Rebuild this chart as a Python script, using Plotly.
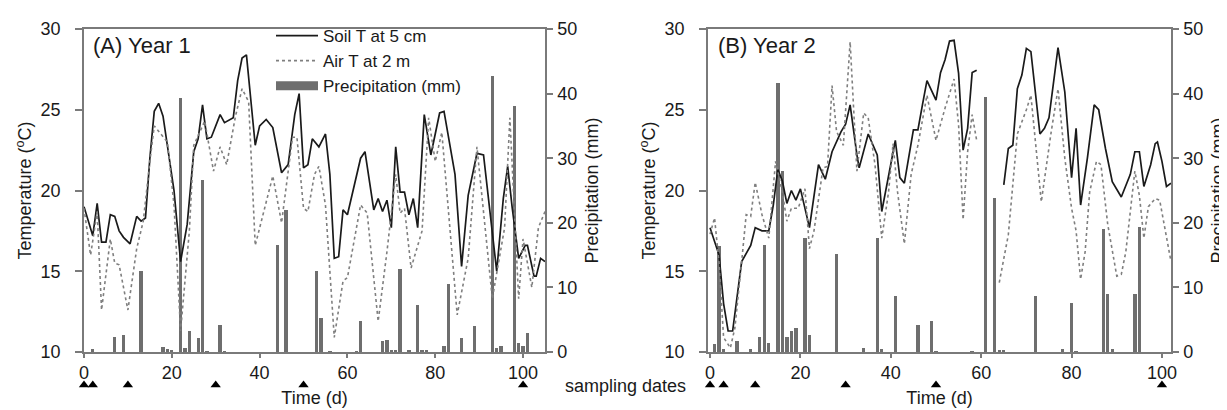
import plotly.graph_objects as go

# ---------------- Panel A (Year 1) ----------------
a_soil_day = [0, 2, 3, 4, 5, 6, 7, 8, 9, 10.5, 12, 13, 14, 15, 16, 17, 18, 19, 20.5, 22, 23.5, 25, 26, 27, 28, 29,
              31, 32, 34, 35, 36, 37, 39, 40, 41.5, 43, 45, 46.5, 48, 49, 50, 51, 52, 53.5, 55, 56, 57, 58, 59, 60,
              63, 64, 66, 67, 68, 69, 70, 71, 72, 73, 74, 75, 76, 77.5, 79, 81, 82, 84.5, 86, 87.5, 89.5, 91, 94,
              95.5, 96.5, 97.5, 99, 100.5, 101, 102.5, 103, 104, 105]
a_soil_t = [19.0, 17.2, 19.2, 16.8, 16.8, 18.5, 18.4, 17.5, 17.1, 16.7, 18.4, 18.1, 18.3, 22.0, 24.9, 25.4, 24.6, 22.8,
            20.0, 15.6, 17.9, 22.4, 23.2, 25.3, 23.2, 23.3, 24.7, 24.2, 24.5, 26.8, 28.2, 28.4, 22.8, 24.0, 24.4, 23.9,
            21.1, 21.6, 24.7, 26.0, 21.4, 21.6, 23.2, 22.7, 23.5, 21.0, 15.8, 15.9, 18.8, 18.5, 22.0, 22.4, 18.8, 19.5,
            18.7, 19.4, 17.7, 22.7, 19.9, 19.9, 18.5, 19.5, 17.7, 24.7, 22.2, 24.8, 24.9, 21.0, 15.3, 19.7, 22.3, 22.2,
            15.0, 19.5, 21.5, 19.0, 15.8, 16.6, 16.6, 14.7, 14.7, 15.8, 15.6]

a_air_day = [0, 1.5, 3, 4, 6, 7, 8, 10, 12, 13.5, 15, 16, 17.5, 19, 20.5, 22, 24, 25, 26.5, 27.5, 29.5, 31, 32.5,
             34.5, 36, 37.5, 39, 43, 45, 47.5, 48.5, 50, 51, 52.5, 53.5, 55, 57, 59, 60, 63, 64.5, 67, 69, 71, 72,
             73, 74.5, 77, 78.5, 80, 81.5, 85, 87.5, 89.5, 93, 95.8, 97, 99, 100, 102, 103.5, 105]
a_air_t = [18.9, 16.0, 18.7, 12.6, 17.0, 15.5, 15.4, 12.6, 16.4, 18.1, 21.8, 24.0, 23.5, 23.0, 19.1, 11.3, 17.5, 22.8,
           23.7, 24.3, 21.2, 22.7, 21.6, 24.6, 26.3, 25.5, 16.6, 20.9, 18.0, 23.3, 23.3, 18.9, 18.7, 21.0, 21.5, 19.1,
           10.9, 14.4, 14.6, 19.1, 18.6, 11.9, 16.2, 21.0, 18.6, 18.9, 15.2, 17.5, 24.5, 21.8, 23.6, 12.3, 15.8, 22.7,
           13.3, 17.7, 24.5, 13.3, 17.0, 14.0, 17.7, 18.7]

a_rain_day = [2, 7, 9, 13, 18, 19, 20, 22, 23, 24, 26, 27, 28, 31, 32, 44, 46, 53, 54, 56, 62, 63, 68, 69, 70, 71,
              72, 74, 76, 77, 78, 82, 83, 86, 89, 93, 94, 95, 98, 99, 100, 101]
a_rain_mm = [0.4, 2.4, 2.7, 12.5, 0.7, 0.5, 0.2, 39.3, 0.6, 3.2, 2.2, 26.7, 0.1, 4.2, 0.1, 16.5, 22.0, 12.5, 5.3, 0.1,
             0.1, 4.75, 1.65, 1.9, 0.2, 0.2, 12.8, 0.2, 7.3, 0.2, 0.2, 1.0, 10.5, 2.2, 4.0, 42.7, 0.6, 1.0, 38.1, 1.4,
             1.0, 2.9]

a_sampling = [0, 2, 10, 30, 50, 100]

# ---------------- Panel B (Year 2) ----------------
b_soil_day = [0, 2, 3, 4, 5, 7, 9, 10, 11.5, 13, 14, 15, 16, 17, 18, 19, 20, 22, 24, 25.5, 27, 29, 30, 31, 32.5, 33,
              35, 36, 37, 38, 39.5, 41, 42, 43, 45, 46, 47, 48, 50, 51, 52, 53, 54, 55, 56, 57, 58, 59, 62,
              65, 66, 67, 68, 69, 70, 71, 72, 73, 74, 75, 77, 78.5, 80, 81, 82, 83.5, 85, 86, 87.5, 89, 91, 93, 94,
              95, 96, 97.5, 98.5, 99, 100, 101, 102]
b_soil_t = [17.7, 16.0, 13.0, 11.3, 11.3, 15.6, 16.6, 17.7, 17.5, 17.5, 19.1, 21.3, 20.6, 19.2, 20.0, 19.4, 20.1,
            17.7, 21.6, 20.7, 22.4, 23.65, 24.1, 25.3, 22.2, 21.4, 23.5, 22.9, 22.2, 18.7, 21.0, 23.1, 20.8, 20.45,
            23.75, 23.75, 25.3, 26.8, 25.6, 27.3, 28.1, 29.25, 29.3, 27.25, 22.5, 23.85, 27.3, 27.45, None,
            20.35, 22.6, 22.8, 26.3, 27.15, 28.8, 28.6, 26.1, 23.5, 23.85, 24.5, 28.85, 26.1, 20.8, 23.85, 19.1,
            22.0, 25.3, 25.0, 22.6, 20.55, 19.6, 21.0, 22.4, 22.4, 20.25, 21.6, 22.9, 23.0, 21.8, 20.25, 20.45]

b_air_day = [0, 1, 2, 3, 4.5, 5.5, 7, 8, 9, 10, 11.5, 13, 14.5, 16, 17, 18, 19.5, 21, 22, 23, 25, 26, 27, 28, 29.5,
             31, 32.5, 34, 35, 36.5, 38, 39.5, 40.5, 41.5, 43, 44.5, 46, 47, 48, 50, 52, 54, 55, 56, 57, 58, 59, 62,
             64, 66, 68, 70, 71, 73.3, 75.5, 77, 78.5, 80, 81, 82, 83, 84, 85.5, 86.5, 88, 90, 91, 92, 94, 95, 96,
             97, 98.5, 99.5, 102]
b_air_t = [17.3, 18.3, 15.5, 10.9, 10.25, 11.5, 15.6, 18.5, 18.4, 20.5, 18.5, 17.05, 21.8, 19.9, 18.1, 18.9, 18.9,
           20.1, 16.4, 17.5, 21.4, 21.5, 26.5, 23.65, 22.8, 29.2, 21.2, 24.8, 24.5, 21.6, 17.05, 19.9, 22.9, 19.9,
           16.7, 21.0, 22.8, 24.3, 25.9, 23.1, 25.1, 26.9, 24.06, 18.2, 22.4, 24.7, 23.1, None,
           14.3, 17.25, 23.5, 25.0, 25.9, 19.3, 23.65, 26.3, 22.0, 18.9, 17.5, 14.5, 16.2, 19.9, 21.8, 21.6, 17.9,
           14.7, 14.8, 16.2, 21.2, 19.7, 17.05, 19.0, 19.5, 19.4, 15.6]

b_rain_day = [1, 2, 3, 6, 9, 11, 12, 13, 15, 16, 17, 18, 19, 21, 22, 28, 34, 37, 38, 41, 46, 49, 50, 58, 61, 63, 64,
              65, 72, 78, 80, 81, 87, 88, 89, 94, 95]
b_rain_mm = [1.25, 16.4, 0.4, 1.65, 0.4, 2.4, 16.5, 1.4, 41.6, 28.0, 2.4, 3.2, 3.7, 17.6, 2.7, 15.2, 0.6, 17.6, 0.4,
             8.6, 4.2, 4.75, 0.1, 0.1, 39.4, 23.8, 0.2, 0.2, 8.6, 0.4, 7.6, 0.1, 19.1, 9.0, 0.4, 9.0, 19.4]

b_sampling = [0, 3, 10, 30, 50, 100]

# ---------------- styling ----------------
W, H = 1227, 410
FONT = "Liberation Sans, Arial, sans-serif"
TXT = "#1a1a1a"
AX = "#7a7a7a"
BAR = "#6e6e6e"
SOIL = "#1a1a1a"
AIR = "#7f7f7f"

xa_dom = [76 / W, 537 / W]
xb_dom = [700 / W, 1163 / W]
y_dom = [(H - 344) / H, (H - 21) / H]
tri_dom = [(H - 385) / H, (H - 369) / H]

fig = go.Figure()

def add_panel(xa, yprec, ytemp, ytri, soil_d, soil_t, air_d, air_t, rain_d, rain_m, samp, legend):
    fig.add_trace(go.Bar(x=rain_d, y=rain_m, width=0.75, marker=dict(color=BAR, line=dict(width=0)),
                         xaxis=xa, yaxis=yprec, showlegend=False, name="Precipitation (mm)"))
    fig.add_trace(go.Scatter(x=soil_d, y=soil_t, mode="lines", line=dict(color=SOIL, width=1.7),
                             xaxis=xa, yaxis=ytemp, name="Soil T at 5 cm", showlegend=legend,
                             connectgaps=False))
    fig.add_trace(go.Scatter(x=air_d, y=air_t, mode="lines", line=dict(color=AIR, width=1.6, dash="dot"),
                             xaxis=xa, yaxis=ytemp, name="Air T at 2 m", showlegend=legend,
                             connectgaps=False))
    if legend:
        fig.add_trace(go.Scatter(x=[None], y=[None], mode="lines", line=dict(color=BAR, width=9),
                                 xaxis=xa, yaxis=ytemp, name="Precipitation (mm)", showlegend=True))
    fig.add_trace(go.Scatter(x=samp, y=[0.5] * len(samp), mode="markers",
                             marker=dict(symbol="triangle-up", size=9, color="black"),
                             xaxis=xa, yaxis=ytri, showlegend=False, cliponaxis=False))

add_panel("x", "y", "y2", "y5", a_soil_day, a_soil_t, a_air_day, a_air_t, a_rain_day, a_rain_mm, a_sampling, True)
add_panel("x2", "y3", "y4", "y6", b_soil_day, b_soil_t, b_air_day, b_air_t, b_rain_day, b_rain_mm, b_sampling, False)

tickfont = dict(family=FONT, size=18, color=TXT)
titlefont = dict(family=FONT, size=18, color=TXT)

def xaxis(dom, rng, anchor):
    return dict(domain=dom, range=rng, anchor=anchor, showline=True, linecolor=AX, linewidth=1.5, mirror=True,
                ticks="outside", ticklen=4, tickwidth=1.5, tickcolor=AX, tickvals=[0, 20, 40, 60, 80, 100],
                tickfont=tickfont, showgrid=False, zeroline=False,
                title=dict(text="Time (d)", font=titlefont, standoff=9))

def ytemp(anchor, overlay):
    return dict(domain=y_dom, range=[10, 30], anchor=anchor, overlaying=overlay, side="left",
                showline=True, linecolor=AX, linewidth=1.5, ticks="outside", ticklen=7, tickwidth=1.5,
                tickcolor=AX, tickvals=[10, 15, 20, 25, 30], tickfont=tickfont, showgrid=False, zeroline=False,
                ticklabelstandoff=11,
                title=dict(text="Temperature (<sup>o</sup>C)", font=titlefont, standoff=4))

def yprec(anchor):
    return dict(domain=y_dom, range=[0, 50], anchor=anchor, side="right",
                showline=True, linecolor=AX, linewidth=1.5, ticks="outside", ticklen=6, tickwidth=1.5,
                tickcolor=AX, tickvals=[0, 10, 20, 30, 40, 50], tickfont=tickfont, showgrid=False, zeroline=False,
                ticklabelstandoff=1,
                title=dict(text="Precipitation (mm)", font=titlefont, standoff=9))

fig.update_layout(
    template="none",
    width=W, height=H,
    margin=dict(l=0, r=0, t=0, b=0),
    paper_bgcolor="white", plot_bgcolor="rgba(0,0,0,0)",
    font=dict(family=FONT, color=TXT, size=18),
    xaxis=xaxis(xa_dom, [0, 105], "y"),
    xaxis2=xaxis(xb_dom, [-0.45, 102], "y3"),
    yaxis=yprec("x"),
    yaxis2=ytemp("x", "y"),
    yaxis3=yprec("x2"),
    yaxis4=ytemp("x2", "y3"),
    yaxis5=dict(domain=tri_dom, range=[0, 1], anchor="x", visible=False),
    yaxis6=dict(domain=tri_dom, range=[0, 1], anchor="x2", visible=False),
    bargap=0,
    showlegend=True,
    legend=dict(x=263 / W, y=(H - 10) / H, xanchor="left", yanchor="top", bgcolor="rgba(0,0,0,0)",
                font=dict(family=FONT, size=17, color=TXT), itemwidth=42, tracegroupgap=0,
                borderwidth=0),
    annotations=[
        dict(text="(A) Year 1", x=83 / W, y=(H - 38) / H, xref="paper", yref="paper", xanchor="left",
             yanchor="middle", showarrow=False, font=dict(family=FONT, size=22, color=TXT)),
        dict(text="(B) Year 2", x=708 / W, y=(H - 38) / H, xref="paper", yref="paper", xanchor="left",
             yanchor="middle", showarrow=False, font=dict(family=FONT, size=22, color=TXT)),
        dict(text="sampling dates", x=617 / W, y=(H - 378) / H, xref="paper", yref="paper", xanchor="center",
             yanchor="middle", showarrow=False, font=dict(family=FONT, size=18, color=TXT)),
    ],
)

fig.write_html("out.html")
